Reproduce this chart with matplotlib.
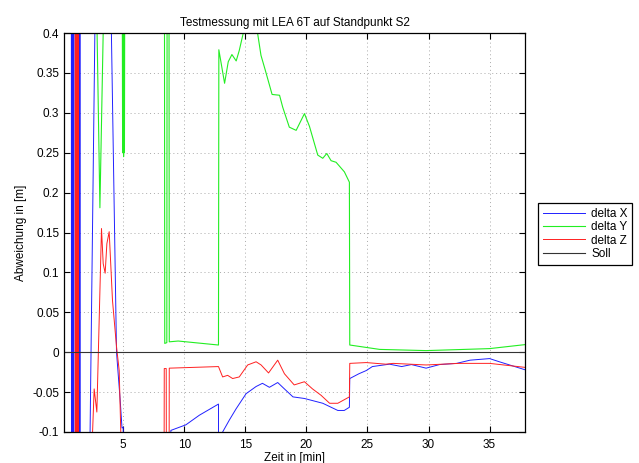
import matplotlib
matplotlib.use('Agg')
import matplotlib.pyplot as plt

plt.rcParams['font.family'] = ['Liberation Sans', 'DejaVu Sans']

# delta X (blue)
x_dx = [0.74, 0.78, 0.82, 0.86, 0.90, 0.94, 0.98, 1.40, 1.45, 1.50,
        2.27, 2.70, 4.00, 4.45, 4.75, 4.90, 5.00, 5.02, 8.85, 8.90,
        10.13, 11.23, 12.80, 12.82, 13.05, 13.14, 13.69, 14.24, 15.06, 15.88,
        16.40, 16.97, 17.65, 18.20, 18.90, 19.84, 21.34, 22.57, 23.10, 23.52,
        23.55, 24.30, 24.90, 25.40, 26.80, 27.80, 28.60, 29.80, 30.90, 32.30,
        33.40, 35.00, 35.80, 37.90]
y_dx = [1, -1, 1, -1, 1, -1, 1, -1, 1, -1,
        -0.12, 0.43, 0.43, 0.0, -0.06, -0.095, -0.094, -0.5, -0.5, -0.098,
        -0.091, -0.079, -0.065, -0.3, -0.3, -0.1, -0.085, -0.071, -0.052, -0.043,
        -0.039, -0.044, -0.038, -0.046, -0.056, -0.058, -0.064, -0.073, -0.073, -0.069,
        -0.033, -0.027, -0.023, -0.018, -0.015, -0.018, -0.0155, -0.020, -0.0155, -0.014,
        -0.010, -0.008, -0.012, -0.022]

# delta Y (green)
x_dy = [2.70, 3.09, 3.42, 4.90, 4.95, 5.00, 5.03, 5.07, 5.10, 5.14,
        8.37, 8.40, 8.57, 8.60, 8.74, 8.77, 9.50, 12.80, 12.83, 13.30,
        13.60, 13.90, 14.25, 14.50, 14.80, 15.40, 15.90, 16.28, 16.64, 16.97,
        17.19, 17.80, 18.06, 18.60, 19.16, 19.84, 20.25, 20.93, 21.34, 21.67,
        22.02, 22.43, 23.11, 23.52, 23.55, 26.00, 29.80, 35.00, 37.90]
y_dy = [0.55, 0.181, 0.45, 0.6, 0.25, 0.6, 0.245, 0.6, 0.25, 0.6,
        0.6, 0.011, 0.012, 0.6, 0.6, 0.013, 0.014, 0.009, 0.379, 0.337,
        0.364, 0.373, 0.365, 0.378, 0.398, 0.44, 0.41, 0.372, 0.353, 0.335,
        0.323, 0.322, 0.307, 0.282, 0.278, 0.299, 0.283, 0.247, 0.243, 0.249,
        0.240, 0.238, 0.226, 0.213, 0.009, 0.0035, 0.002, 0.0045, 0.0095]

# delta Z (red)
x_dz = [1.05, 1.08, 1.11, 1.14, 1.17, 1.20, 1.23, 1.26, 1.30, 1.35,
        2.45, 2.49, 2.62, 2.84, 3.22, 3.36, 3.52, 3.66, 3.85, 4.12,
        4.45, 4.67, 4.80, 4.85, 8.33, 8.36, 8.52, 8.55, 8.74, 8.77,
        12.80, 13.14, 13.55, 13.96, 14.50, 15.19, 15.88, 16.29, 16.90, 17.65,
        18.20, 19.00, 19.84, 20.50, 21.20, 21.90, 22.57, 23.52, 23.55, 24.90,
        26.50, 27.10, 29.80, 32.50, 35.00, 37.90]
y_dz = [1, -1, 1, -1, 1, -1, 1, -1, 1, -1,
        -0.3, -0.1, -0.046, -0.075, 0.155, 0.111, 0.099, 0.136, 0.151, 0.065,
        0.007, -0.023, -0.1, -0.3, -0.3, -0.0205, -0.0205, -0.3, -0.3, -0.020,
        -0.018, -0.031, -0.029, -0.033, -0.031, -0.016, -0.012, -0.016, -0.026, -0.010,
        -0.027, -0.041, -0.037, -0.046, -0.054, -0.064, -0.064, -0.056, -0.014, -0.013,
        -0.015, -0.014, -0.016, -0.014, -0.014, -0.019]

# Soll
x_soll = [0.15, 37.9]
y_soll = [0, 0]

xticks = [5, 10, 15, 20, 25, 30, 35]
yticks = [-0.1, -0.05, 0, 0.05, 0.1, 0.15, 0.2, 0.25, 0.3, 0.35, 0.4]
ytick_labels = ['-0.1', '-0.05', '0', '0.05', '0.1', '0.15', '0.2', '0.25', '0.3', '0.35', '0.4']

fig = plt.figure(figsize=(6.39, 4.63), dpi=100)
ax = fig.add_axes([64/639, 1-432/463, (525-64)/639, (432-33)/463])

ax.plot(x_dx, y_dx, color='#2020ff', lw=0.7, label='delta X')
ax.plot(x_dy, y_dy, color='#22ee22', lw=0.8, label='delta Y')
ax.plot(x_dz, y_dz, color='#ff2020', lw=0.7, label='delta Z')
ax.plot(x_soll, y_soll, color='#333333', lw=0.8, label='Soll')

ax.set_xlim(0.15, 37.9)
ax.set_ylim(-0.1, 0.4)
ax.set_xticks(xticks)
ax.set_yticks(yticks)
ax.set_yticklabels(ytick_labels)
ax.tick_params(direction='in', top=True, right=True, length=4, labelsize=8.5, width=0.8)
ax.tick_params(axis='x', pad=5)
ax.grid(True, linestyle=(0, (1, 3)), color='#aaaaaa', lw=0.7)
for s in ax.spines.values():
    s.set_linewidth(0.9)

ax.set_title('Testmessung mit LEA 6T auf Standpunkt S2', fontsize=8.5, pad=5)
ax.set_xlabel('Zeit in [min]', fontsize=8.5, labelpad=1)
ax.set_ylabel('Abweichung in [m]', fontsize=8.5, labelpad=4)

leg = fig.legend(loc='upper left', bbox_to_anchor=(538/639, 1-203/463), fontsize=8.5,
                 fancybox=False, edgecolor='black', framealpha=1, handlelength=3.6,
                 borderpad=0.4, labelspacing=0.12, handletextpad=0.5, borderaxespad=0)
leg.get_frame().set_linewidth(0.9)

fig.savefig('out.png', dpi=100)
